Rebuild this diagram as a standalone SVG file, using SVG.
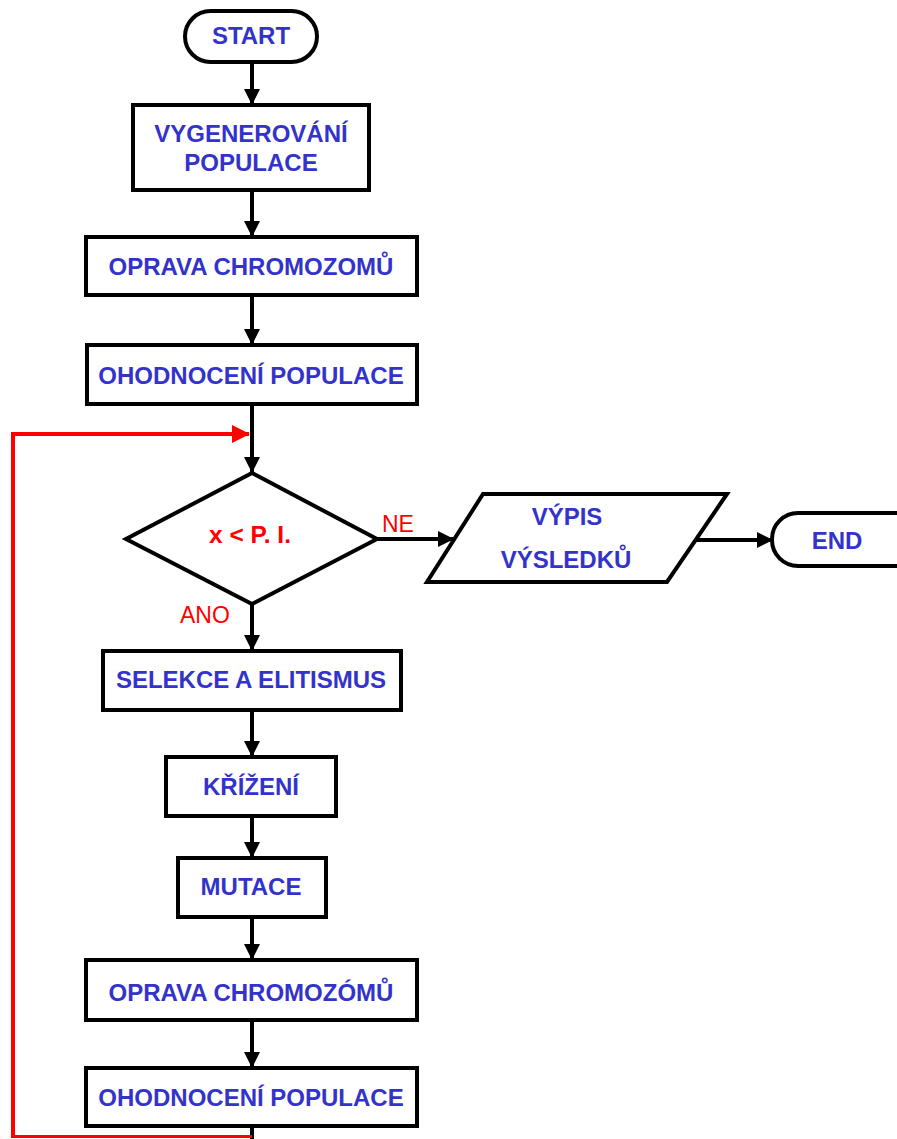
<svg xmlns="http://www.w3.org/2000/svg" width="897" height="1139" viewBox="0 0 897 1139">
<defs>
<style>
.box{fill:#fff;stroke:#000;stroke-width:4}
.t{font-family:"Liberation Sans",Arial,sans-serif;font-weight:bold;font-size:24px;fill:#3333cc;text-anchor:middle}
.rt{font-family:"Liberation Sans",Arial,sans-serif;font-size:23px;fill:#ff0000}
.rb{font-family:"Liberation Sans",Arial,sans-serif;font-weight:bold;font-size:24.5px;fill:#ff0000;text-anchor:middle}
.c{fill:none;stroke:#000;stroke-width:4}
.red{fill:none;stroke:#ff0000;stroke-width:4}
</style>
<marker id="ah" markerUnits="userSpaceOnUse" markerWidth="16" markerHeight="16" refX="15" refY="8" orient="auto" viewBox="0 0 16 16">
<path d="M0,0 L16,8 L0,16 z" fill="#000"/>
</marker>
<marker id="rah" markerUnits="userSpaceOnUse" markerWidth="18" markerHeight="18" refX="17" refY="9" orient="auto" viewBox="0 0 18 18">
<path d="M0,0 L18,9 L0,18 z" fill="#ff0000"/>
</marker>
</defs>
<rect width="897" height="1139" fill="#fff"/>
<g id="connectors">
<line class="c" x1="252" y1="62" x2="252" y2="104" marker-end="url(#ah)"/>
<line class="c" x1="252" y1="190" x2="252" y2="236" marker-end="url(#ah)"/>
<line class="c" x1="252" y1="295" x2="252" y2="344" marker-end="url(#ah)"/>
<line class="c" x1="252" y1="404" x2="252" y2="472" marker-end="url(#ah)"/>
<line class="c" x1="377" y1="539" x2="453" y2="539" marker-end="url(#ah)"/>
<line class="c" x1="696" y1="540" x2="772" y2="540" marker-end="url(#ah)"/>
<line class="c" x1="252" y1="604" x2="252" y2="650" marker-end="url(#ah)"/>
<line class="c" x1="252" y1="710" x2="252" y2="756" marker-end="url(#ah)"/>
<line class="c" x1="252" y1="816" x2="252" y2="857" marker-end="url(#ah)"/>
<line class="c" x1="252" y1="917" x2="252" y2="959" marker-end="url(#ah)"/>
<line class="c" x1="252" y1="1020" x2="252" y2="1067" marker-end="url(#ah)"/>
<line class="c" x1="252" y1="1126" x2="252" y2="1139"/>
<polyline fill="none" stroke="#ff0000" stroke-width="3" points="252,1136.5 13,1136.5"/>
<polyline class="red" points="13,1138 13,434 249,434" marker-end="url(#rah)"/>
<text class="rt" x="382" y="532">NE</text>
<text class="rt" x="180" y="623">ANO</text>
</g>
<g id="start">
<rect class="box" x="185" y="11" width="132" height="51" rx="25.5"/>
<text class="t" x="251" y="44">START</text>
</g>
<g id="vygenerovani">
<rect class="box" x="133" y="105" width="236" height="85"/>
<text class="t" x="251" y="142">VYGENEROVÁNÍ</text>
<text class="t" x="251" y="171">POPULACE</text>
</g>
<g id="oprava1">
<rect class="box" x="86" y="237" width="331" height="58"/>
<text class="t" x="251" y="275">OPRAVA CHROMOZOMŮ</text>
</g>
<g id="ohodnoceni1">
<rect class="box" x="87" y="345" width="330" height="59"/>
<text class="t" x="251" y="384">OHODNOCENÍ POPULACE</text>
</g>
<g id="decision">
<polygon class="box" points="252,473 377,539 252,604 126,539"/>
<text class="rb" x="250" y="543">x &lt; P. I.</text>
</g>
<g id="vypis">
<polygon class="box" points="483,494 727,494 667,582 427,582"/>
<text class="t" x="567" y="525">VÝPIS</text>
<text class="t" x="566" y="568">VÝSLEDKŮ</text>
</g>
<g id="end">
<rect class="box" x="772" y="513" width="150" height="53" rx="26"/>
<text class="t" x="837" y="549">END</text>
</g>
<g id="selekce">
<rect class="box" x="103" y="651" width="298" height="59"/>
<text class="t" x="251" y="688">SELEKCE A ELITISMUS</text>
</g>
<g id="krizeni">
<rect class="box" x="166" y="757" width="170" height="59"/>
<text class="t" x="251" y="795">KŘÍŽENÍ</text>
</g>
<g id="mutace">
<rect class="box" x="178" y="858" width="148" height="59"/>
<text class="t" x="251" y="895">MUTACE</text>
</g>
<g id="oprava2">
<rect class="box" x="86" y="960" width="331" height="60"/>
<text class="t" x="251" y="1001">OPRAVA CHROMOZÓMŮ</text>
</g>
<g id="ohodnoceni2">
<rect class="box" x="86" y="1068" width="331" height="58"/>
<text class="t" x="251" y="1106">OHODNOCENÍ POPULACE</text>
</g>
</svg>
